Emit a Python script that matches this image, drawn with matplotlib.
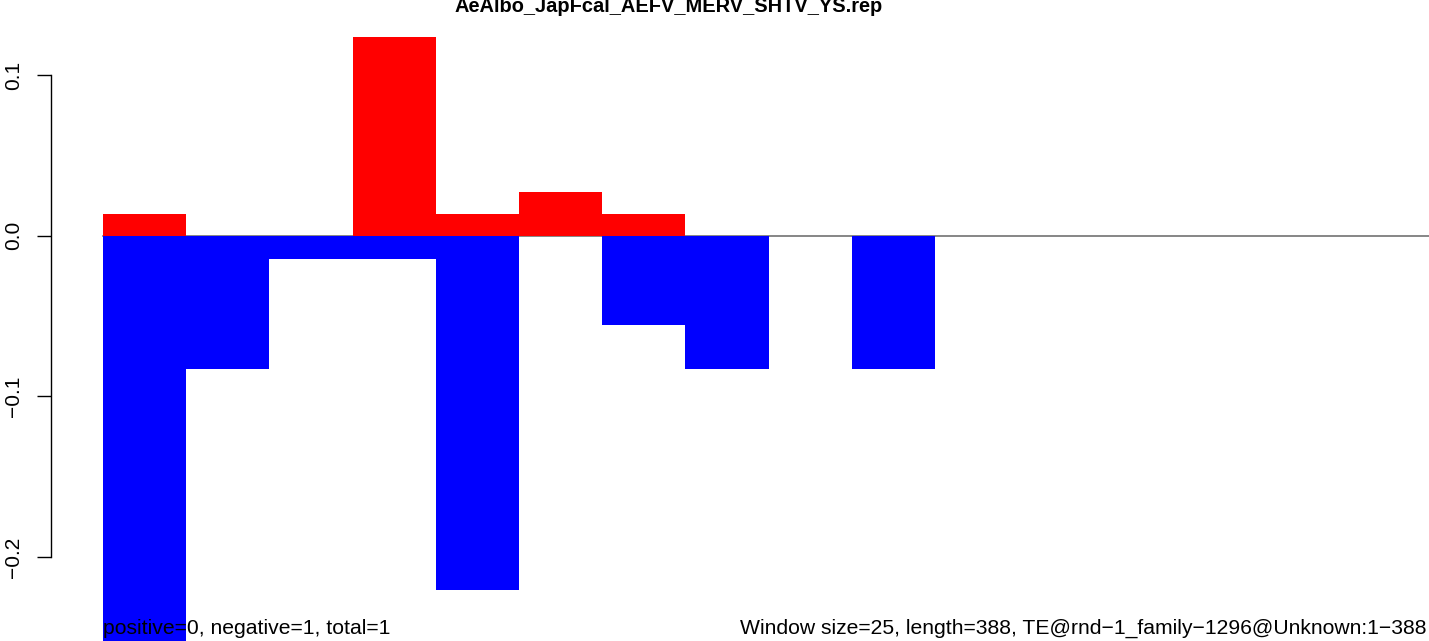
import matplotlib
matplotlib.use('Agg')
import matplotlib.pyplot as plt
import numpy as np

# window scores (16 windows of size 25 over length 388)
windows = list(range(16))
positive = [0.0135, 0, 0, 0.1237, 0.0135, 0.0272, 0.0135, 0, 0, 0, 0, 0, 0, 0, 0, 0]
negative = [-0.27, -0.083, -0.0145, -0.0145, -0.2203, 0, -0.0556, -0.083, 0, -0.083,
            0, 0, 0, 0, 0, 0]
yticks = [-0.2, -0.1, 0.0, 0.1]
title = "AeAlbo_JapFcal_AEFV_MERV_SHTV_YS.rep"
left_note = "positive=0, negative=1, total=1"
right_note = "Window size=25, length=388, TE@rnd\u22121_family\u22121296@Unknown:1\u2212388"

W, H = 1429, 641
plt.rcParams['font.family'] = ['Liberation Sans', 'DejaVu Sans']

fig = plt.figure(figsize=(W / 100, H / 100), dpi=100)

# pixel layout of the (cropped) R plot
ax_left = 51
bar0 = 103
unit = 83.2
zero_y = 235.7
per_unit = 1606.7

ax = fig.add_axes([ax_left / W, 0, (W - ax_left) / W, 1])
ax.set_xlim(-(bar0 - ax_left) / unit, (W - bar0) / unit)
ax.set_ylim(-(H - zero_y) / per_unit, zero_y / per_unit)

ax.plot([0, 20], [0, 0], color='#666666', lw=1.1, zorder=1)
ax.bar(windows, positive, width=1, align='edge', color='red', lw=0, zorder=2)
ax.bar(windows, negative, width=1, align='edge', color='blue', lw=0, zorder=2)

for s in ['top', 'right', 'bottom']:
    ax.spines[s].set_visible(False)
ax.spines['left'].set_bounds(-0.2, 0.1)
ax.spines['left'].set_linewidth(1.0)
ax.set_xticks([])
ax.set_yticks(yticks)
ax.set_yticklabels(['\u22120.2', '\u22120.1', '0.0', '0.1'], rotation=90, va='center')
ax.tick_params(axis='y', length=10, width=1.0, pad=10, labelsize=15)
ax.patch.set_visible(False)

def px(x, y):
    return x / W, 1 - y / H

fig.text(*px(669, 12), title, ha='center', va='baseline', fontsize=14.4, fontweight='bold')
fig.text(*px(bar0, 634), left_note, ha='left', va='baseline', fontsize=15.2, zorder=5)
fig.text(*px(740, 634), right_note, ha='left', va='baseline', fontsize=15.2)

fig.savefig('out.png', dpi=100)
